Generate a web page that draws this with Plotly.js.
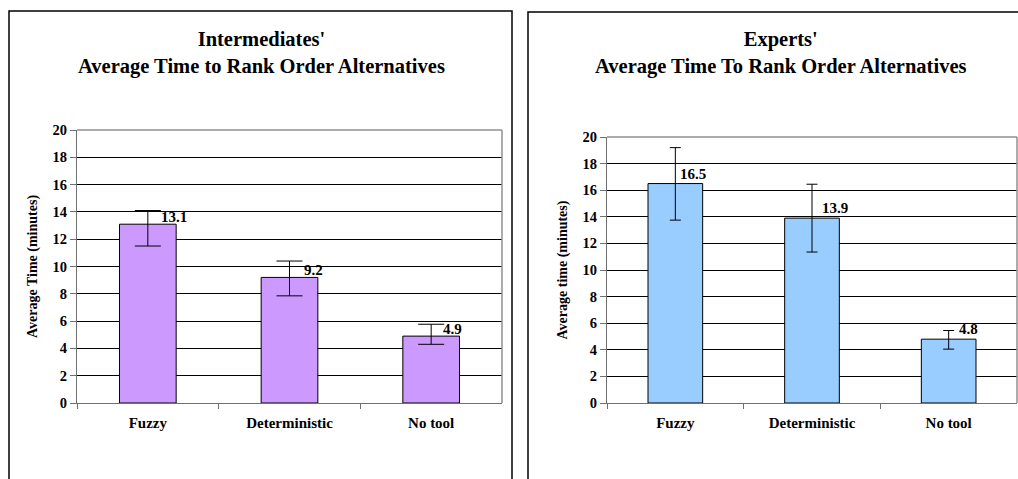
<!DOCTYPE html>
<html>
<head>
<meta charset="utf-8">
<script src="https://cdn.plot.ly/plotly-3.0.1.min.js"></script>
<style>html,body{margin:0;padding:0;background:#fff;}#chart{width:1018px;height:479px;}</style>
</head>
<body>
<div id="chart"></div>
<script>
var categories = ["Fuzzy", "Deterministic", "No tool"];
var interValues = [13.1, 9.2, 4.9];
var interErrPlus = [1.0, 1.2, 0.87];
var interErrMinus = [1.6, 1.35, 0.6];
var expertValues = [16.5, 13.9, 4.8];
var expertErrPlus = [2.7, 2.55, 0.65];
var expertErrMinus = [2.75, 2.55, 0.75];
var yTicks = [0, 2, 4, 6, 8, 10, 12, 14, 16, 18, 20];
var leftTitle = "Intermediates'<br>Average Time to Rank Order Alternatives";
var rightTitle = "Experts'<br>Average Time To Rank Order Alternatives";
var leftYTitle = "Average Time (minutes)";
var rightYTitle = "Average time (minutes)";

var W = 1018, H = 479;
var serif = "Liberation Serif";
function px(x){ return x / W; }
function py(y){ return (H - y) / H; }

var traces = [
  {
    type: "bar", x: categories, y: interValues, xaxis: "x", yaxis: "y",
    width: 0.4,
    marker: {color: "#CC99FF", line: {color: "#000", width: 1}},
    error_y: {type: "data", symmetric: false, array: interErrPlus, arrayminus: interErrMinus,
              color: "#000", thickness: 1, width: 13},
    hoverinfo: "none"
  },
  {
    type: "bar", x: categories, y: expertValues, xaxis: "x2", yaxis: "y2",
    width: 0.4,
    marker: {color: "#99CCFF", line: {color: "#000", width: 1}},
    error_y: {type: "data", symmetric: false, array: expertErrPlus, arrayminus: expertErrMinus,
              color: "#000", thickness: 1, width: 5.5},
    hoverinfo: "none"
  }
];

function xax(domain){
  return {
    domain: domain, type: "category", range: [-0.5, 2.5], fixedrange: true,
    showline: true, linecolor: "#707070", linewidth: 1,
    ticks: "outside", tickson: "boundaries", ticklen: 5, tickcolor: "#707070",
    ticklabelstandoff: 6,
    showgrid: false, zeroline: false,
    tickfont: {family: serif, size: 15, color: "#000", weight: "bold"}
  };
}
function yax(domain, title){
  return {
    domain: domain, range: [0, 20], tickvals: yTicks, fixedrange: true,
    showline: true, linecolor: "#707070", linewidth: 1,
    ticks: "outside", ticklen: 6, tickcolor: "#707070",
    showgrid: true, gridcolor: "#000", gridwidth: 1, zeroline: false,
    tickfont: {family: serif, size: 14.5, color: "#000", weight: "bold"},
    title: {text: title, font: {family: serif, size: 14, color: "#000", weight: "bold"}, standoff: 11}
  };
}

var annotations = [
  {text: leftTitle, xref: "paper", yref: "paper", x: px(261), y: py(53), xanchor: "center", yanchor: "middle",
   showarrow: false, font: {family: serif, size: 20.5, color: "#000", weight: "bold"}},
  {text: rightTitle, xref: "paper", yref: "paper", x: px(780), y: py(53), xanchor: "center", yanchor: "middle",
   showarrow: false, font: {family: serif, size: 20.5, color: "#000", weight: "bold"}}
];
var leftShift = [11, 12, 10];
var rightShift = [3, 8, 8];
categories.forEach(function(c, i){
  annotations.push({text: interValues[i].toFixed(1), xref: "x", yref: "y", x: c, y: interValues[i],
    xanchor: "left", yanchor: "bottom", xshift: leftShift[i], yshift: -3, showarrow: false,
    font: {family: serif, size: 15, color: "#000", weight: "bold"}});
  annotations.push({text: expertValues[i].toFixed(1), xref: "x2", yref: "y2", x: c, y: expertValues[i],
    xanchor: "left", yanchor: "bottom", xshift: rightShift[i], yshift: 0, showarrow: false,
    font: {family: serif, size: 15, color: "#000", weight: "bold"}});
});

var shapes = [
  {type: "rect", xref: "paper", yref: "paper", x0: px(9), x1: px(512), y0: py(490), y1: py(11),
   line: {color: "#000", width: 1.5}, fillcolor: "rgba(0,0,0,0)", layer: "below"},
  {type: "rect", xref: "paper", yref: "paper", x0: px(528), x1: px(1040), y0: py(490), y1: py(12),
   line: {color: "#000", width: 1.5}, fillcolor: "rgba(0,0,0,0)", layer: "below"},
  {type: "line", xref: "x domain", yref: "y domain", x0: 0, x1: 1, y0: 1, y1: 1, line: {color: "#909090", width: 1.5}, layer: "above"},
  {type: "line", xref: "x domain", yref: "y domain", x0: 1, x1: 1, y0: 0, y1: 1, line: {color: "#909090", width: 1.5}, layer: "above"},
  {type: "line", xref: "x2 domain", yref: "y2 domain", x0: 0, x1: 1, y0: 1, y1: 1, line: {color: "#909090", width: 1.5}, layer: "above"},
  {type: "line", xref: "x2 domain", yref: "y2 domain", x0: 1, x1: 1, y0: 0, y1: 1, line: {color: "#909090", width: 1.5}, layer: "above"}
];

var layout = {
  width: W, height: H,
  margin: {l: 0, r: 0, t: 0, b: 0, pad: 0},
  paper_bgcolor: "#fff", plot_bgcolor: "#fff",
  font: {family: serif, color: "#000"},
  showlegend: false,
  bargap: 0.6,
  xaxis: xax([px(77), px(502)]),
  yaxis: yax([py(403), py(130)], leftYTitle),
  xaxis2: xax([px(607), px(1017)]),
  yaxis2: yax([py(403), py(137)], rightYTitle),
  annotations: annotations,
  shapes: shapes
};
layout.xaxis2.anchor = "y2";
layout.yaxis2.anchor = "x2";
layout.xaxis.anchor = "y";
layout.yaxis.anchor = "x";

Plotly.newPlot("chart", traces, layout, {displayModeBar: false, staticPlot: true});
</script>
</body>
</html>
